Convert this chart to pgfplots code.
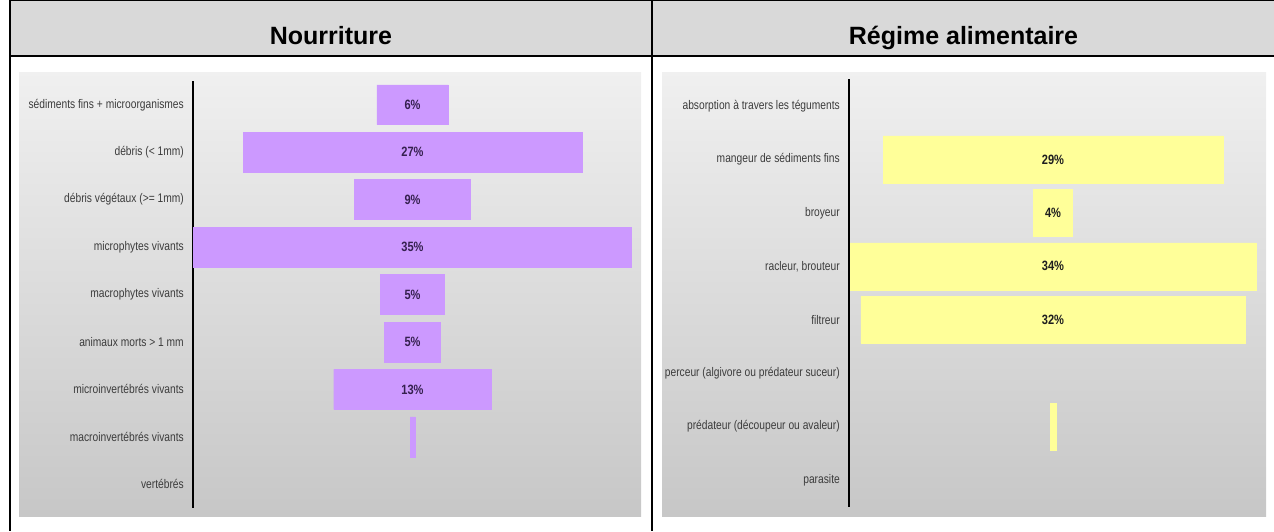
\documentclass[border=0pt]{standalone}
\usepackage{fontspec}
\setmainfont{Liberation Sans}
\newfontfamily\narrowfont{Liberation Sans}[FakeStretch=0.82]
\usepackage{pgfplots}
\pgfplotsset{compat=1.18}
\usepackage{pgfplotstable}
\definecolor{hdr}{HTML}{D9D9D9}
\definecolor{barP}{HTML}{CC99FF}
\definecolor{barY}{HTML}{FFFF99}
\definecolor{labgray}{HTML}{3C3C3C}
\definecolor{txtP}{HTML}{35204F}
\definecolor{txtY}{HTML}{1E1E1E}

% Nourriture : index, value (%)
\pgfplotstableread{
i v
1 5.7
2 27.1
3 9.3
4 35.0
5 5.1
6 4.5
7 12.6
8 0.4
}\tabL
% Regime alimentaire : index, value (%)
\pgfplotstableread{
i v
2 28.5
3 3.3
4 34.0
5 32.2
7 0.5
}\tabR

\begin{document}
\begin{tikzpicture}[x=1pt,y=1pt]
\useasboundingbox (0,0) rectangle (1274,531);
% header
\fill[hdr] (11,530) rectangle (1274,476);
% panel backgrounds
\shade[top color=white!94!black, bottom color=white!78!black] (19,458) rectangle (641,15);
\shade[top color=white!94!black, bottom color=white!78!black] (662,458) rectangle (1266,15);
% table rules
\draw[line width=1.6pt] (9,530.4) -- (1274,530.4);
\draw[line width=2.4pt] (9,475.2) -- (1274,475.2);
\draw[line width=2.4pt] (10,531) -- (10,0);
\draw[line width=2.4pt] (652,531) -- (652,0);
% titles
\node[anchor=base, font=\bfseries\fontsize{25}{30}\selectfont] at (331,486) {Nourriture};
\node[anchor=base, font=\bfseries\fontsize{25}{30}\selectfont] at (963.5,486) {Régime alimentaire};

% left chart
\begin{axis}[
  at={(193pt,23pt)}, anchor=south west,
  scale only axis, width=439pt, height=427pt,
  xmin=-17.55, xmax=17.55, ymin=0.5, ymax=9.5, y dir=reverse,
  axis y line*=left, axis x line=none,
  ytick={1,...,9},
  yticklabels={sédiments fins + microorganismes, débris (< 1mm), débris végétaux (>= 1mm), microphytes vivants, macrophytes vivants, animaux morts > 1 mm, microinvertébrés vivants, macroinvertébrés vivants, vertébrés},
  major tick length=0pt,
  yticklabel style={font=\narrowfont\fontsize{12.5}{14}\selectfont, text=labgray, inner sep=0pt, anchor=east, xshift=-9pt},
  axis line style={line width=1.6pt, black},
  clip=false,
]
\addplot[xbar, bar shift=0pt, bar width=0.84, fill=barP, draw=barP, line width=0.4pt] table[x expr=\thisrow{v}/2, y=i] \tabL;
\addplot[xbar, bar shift=0pt, bar width=0.84, fill=barP, draw=barP, line width=0.4pt] table[x expr=-\thisrow{v}/2, y=i] \tabL;
\addplot[draw=none, mark=none, nodes near coords, point meta=explicit symbolic,
  every node near coord/.append style={anchor=center, inner sep=0pt, text=txtP, font=\narrowfont\bfseries\fontsize{13.5}{15}\selectfont}]
  coordinates {(0,1) [6\%] (0,2) [27\%] (0,3) [9\%] (0,4) [35\%] (0,5) [5\%] (0,6) [5\%] (0,7) [13\%]};
\end{axis}

% right chart
\begin{axis}[
  at={(849pt,24.3pt)}, anchor=south west,
  scale only axis, width=408pt, height=427.4pt,
  xmin=-17.1, xmax=17.1, ymin=0.5, ymax=8.5, y dir=reverse,
  axis y line*=left, axis x line=none,
  ytick={1,...,8},
  yticklabels={absorption à travers les téguments, mangeur de sédiments fins, broyeur, {racleur, brouteur}, filtreur, perceur (algivore ou prédateur suceur), prédateur (découpeur ou avaleur), parasite},
  major tick length=0pt,
  yticklabel style={font=\narrowfont\fontsize{12.5}{14}\selectfont, text=labgray, inner sep=0pt, anchor=east, xshift=-9pt},
  axis line style={line width=1.6pt, black},
  clip=false,
]
\addplot[xbar, bar shift=0pt, bar width=0.88, fill=barY, draw=barY, line width=0.4pt] table[x expr=\thisrow{v}/2, y=i] \tabR;
\addplot[xbar, bar shift=0pt, bar width=0.88, fill=barY, draw=barY, line width=0.4pt] table[x expr=-\thisrow{v}/2, y=i] \tabR;
\addplot[draw=none, mark=none, nodes near coords, point meta=explicit symbolic,
  every node near coord/.append style={anchor=center, inner sep=0pt, text=txtY, font=\narrowfont\bfseries\fontsize{13.5}{15}\selectfont}]
  coordinates {(0,2) [29\%] (0,3) [4\%] (0,4) [34\%] (0,5) [32\%]};
\end{axis}
\end{tikzpicture}
\end{document}
